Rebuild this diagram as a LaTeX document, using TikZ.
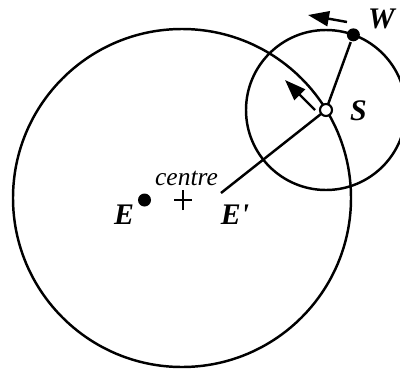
\documentclass[tikz,border=0pt]{standalone}
\usepackage{fontspec}
\setmainfont{Liberation Serif}
\usetikzlibrary{arrows.meta, calc}

\begin{document}
\begin{tikzpicture}[
    line width=1.4pt,
    soliddot/.style={circle, fill=black, inner sep=0pt, minimum size=0.26cm},
    opendot/.style={circle, draw=black, fill=white, line width=1.2pt, inner sep=0pt, minimum size=0.24cm},
    lbl/.style={font=\fontsize{17}{19}\selectfont\bfseries\itshape, inner sep=0pt},
    motion/.style={-{Triangle[length=0.42cm, width=0.3cm]}, line width=1.4pt}
]
\useasboundingbox (0,0) rectangle (8,7.38);

% orbits
\coordinate (centre) at (3.64,3.42);
\coordinate (S0) at (6.52,5.18);
\draw (centre) circle (3.38cm);
\draw (S0) circle (1.6cm);

% bodies
\node[soliddot] (E) at (2.89,3.38) {};
\node[soliddot] (W) at ($(S0)+(70:1.6)$) {};
\coordinate (Eend) at (4.42,3.52);
\draw (W) -- (S0);
\draw (S0) -- (Eend);
\node[opendot] (S) at (S0) {};

% motion arrows
\coordinate (a1) at (6.30,5.18);
\coordinate (a2) at (5.70,5.78);
\coordinate (b1) at (6.94,6.94);
\coordinate (b2) at (6.16,7.08);
\draw[motion] (a1) -- (a2);
\draw[motion] (b1) -- (b2);

% centre mark
\coordinate (plus) at (3.66,3.38);
\draw[line width=1.5pt] ($(plus)+(-0.18,0)$) -- ($(plus)+(0.18,0)$);
\draw[line width=1.5pt] ($(plus)+(0,-0.2)$) -- ($(plus)+(0,0.2)$);

% labels
\node[lbl] (Wl) at (7.63,7.01) {W};
\node[lbl] (Sl) at (7.17,5.16) {S};
\node[lbl] (El) at (2.48,3.08) {E};
\node[lbl] (Epl) at (4.70,3.08) {E\textquotesingle};
\node[font=\fontsize{14.5}{16}\selectfont\itshape, inner sep=0pt] (cl) at (3.73,3.82) {centre};

\end{tikzpicture}
\end{document}
